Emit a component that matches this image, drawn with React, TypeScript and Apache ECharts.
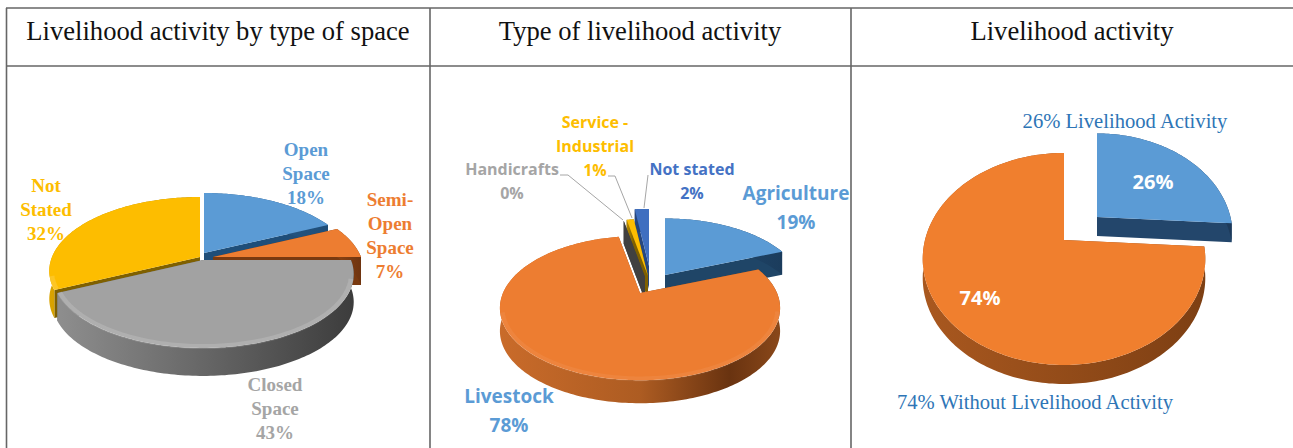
import React, { useEffect, useRef } from "react";
import * as echarts from "echarts";

const titles = ["Livelihood activity by type of space", "Type of livelihood activity", "Livelihood activity"];

const spaceNames = ["Open\nSpace", "Semi-\nOpen\nSpace", "Closed\nSpace", "Not\nStated"];
const spaceValues = [18, 7, 43, 32];

const typeNames = ["Agriculture", "Livestock", "Handicrafts", "Service -\nIndustrial", "Not stated"];
const typeValues = [19, 78, 0, 1, 2];

const activityNames = ["Livelihood Activity", "Without Livelihood Activity"];
const activityValues = [26, 74];

const BLUE = "#5B9BD5";
const ORANGE = "#ED7D31";
const GREY = "#A5A5A5";
const YELLOW = "#FDBD00";
const NAVY = "#4472C4";

type Look = { top: string; face: string; side: [number, string][] };

const pies: any[] = [
  {
    values: spaceValues, cx: 203, cy: 260, rx: 148, ry: 71.3, p: 0.189, depth: 28, bevel: 0.14,
    offsets: [[1, -7], [10, -3], [0, 0], [-3, -3]],
    scales: [1, 1, 1, 1],
    order: [0, 1, 3, 2],
    looks: [
      { top: BLUE, face: "#1F4E79", side: [[0, "#2C5F8D"], [1, "#1F4E79"]] },
      { top: ORANGE, face: "#7A3A10", side: [[0, "#8A4212"], [1, "#6E3410"]] },
      { top: "#A2A2A2", face: "#6B6B6B", side: [[0, "#8E8E8E"], [0.45, "#6A6A6A"], [1, "#3C3C3C"]] },
      { top: YELLOW, face: "#7F6000", side: [[0, "#D9A300"], [1, "#A67C00"]] },
    ] as Look[],
  },
  {
    values: typeValues, cx: 640, cy: 293, rx: 137, ry: 69, p: 0.209, depth: 23, bevel: 0.06,
    offsets: [[25, -18], [0, 0], [5, -16], [8, -17], [9, -27]],
    scales: [0.99, 1, 1, 1, 1],
    order: [4, 3, 2, 0, 1],
    looks: [
      { top: BLUE, face: "#1F4567", side: [[0, "#24507A"], [1, "#1B3C5C"]] },
      { top: ORANGE, face: "#8A4A1C", side: [[0, "#C96B2A"], [0.5, "#AD5C22"], [0.82, "#693310"], [1, "#8A481A"]] },
      { top: GREY, face: "#404040", side: [[0, "#404040"], [1, "#404040"]] },
      { top: YELLOW, face: "#7F6000", side: [[0, "#B58900"], [1, "#7F6000"]] },
      { top: "#3F6FC0", face: "#26477F", side: [[0, "#26477F"], [1, "#1D3763"]] },
    ] as Look[],
  },
  {
    values: activityValues, cx: 1064, cy: 240, rx: 139, ry: 102.6, p: 0.179, depth: 19, bevel: 0,
    offsets: [[33, -23], [0, 0]],
    scales: [0.96, 1],
    order: [0, 1],
    looks: [
      { top: BLUE, face: "#23466B", side: [[0, "#28517C"], [1, "#1D3A5A"]] },
      { top: "#F07F2E", face: "#8A4A1C", side: [[0, "#A9581F"], [1, "#7D3F13"]] },
    ] as Look[],
  },
];

const serifBold = "bold 19px 'Liberation Serif', serif";
const sansBold = (s: number) => `bold ${s}px 'Open Sans', sans-serif`;
const serif = (s: number) => `${s}px 'Liberation Serif', serif`;

const centredLabels: any[] = [
  { t: `${spaceNames[0]}\n${spaceValues[0]}%`, x: 306, y: 173, c: BLUE, f: serifBold, lh: 24 },
  { t: `${spaceNames[1]}\n${spaceValues[1]}%`, x: 390, y: 235, c: ORANGE, f: serifBold, lh: 24 },
  { t: `${spaceNames[2]}\n${spaceValues[2]}%`, x: 275, y: 408, c: GREY, f: serifBold, lh: 24 },
  { t: `${spaceNames[3]}\n${spaceValues[3]}%`, x: 46, y: 209, c: YELLOW, f: serifBold, lh: 24 },
  { t: `${typeNames[0]}\n${typeValues[0]}%`, x: 796, y: 207, c: BLUE, f: sansBold(19), lh: 29 },
  { t: `${typeNames[1]}\n${typeValues[1]}%`, x: 509, y: 410, c: BLUE, f: sansBold(19), lh: 29 },
  { t: `${typeNames[2]}\n${typeValues[2]}%`, x: 512, y: 181, c: GREY, f: sansBold(16), lh: 24 },
  { t: `${typeNames[3]}\n${typeValues[3]}%`, x: 595, y: 146, c: YELLOW, f: sansBold(16), lh: 24 },
  { t: `${typeNames[4]}\n${typeValues[4]}%`, x: 692, y: 181, c: NAVY, f: sansBold(16), lh: 24 },
  { t: `${activityValues[0]}% ${activityNames[0]}`, x: 1125, y: 121, c: "#2E75B6", f: serif(20.6), lh: 22 },
  { t: `${activityValues[1]}% ${activityNames[1]}`, x: 1035, y: 402, c: "#2E75B6", f: serif(20.6), lh: 22 },
  { t: `${activityValues[0]}%`, x: 1153, y: 181, c: "#FFFFFF", f: sansBold(20), lh: 22 },
  { t: `${activityValues[1]}%`, x: 980, y: 297, c: "#FFFFFF", f: sansBold(20), lh: 22 },
];

const leaders = [
  [[560, 175], [568, 175], [623, 220]],
  [[608, 176], [615, 176], [632, 218]],
  [[648, 175], [644, 208]],
];

const tableLines = [
  [6, 8, 1293, 8], [6, 66, 1293, 66],
  [6.5, 8, 6.5, 448], [430, 8, 430, 448], [851, 8, 851, 448],
];

function pieSeries(pie: any) {
  const total = pie.values.reduce((a: number, b: number) => a + b, 0);
  const project = (theta: number, ox: number, oy: number, drop: number, k: number) => {
    const u = Math.sin(theta);
    const v = Math.cos(theta);
    const s = k / (1 + pie.p * v);
    return [pie.cx + ox + pie.rx * u * s, pie.cy + oy - pie.ry * v * s + drop];
  };
  const renderItem = (_: any, api: any) => {
    const idx = api.value(1);
    let before = 0;
    for (let i = 0; i < idx; i++) before += pie.values[i];
    const a0 = (before / total) * Math.PI * 2;
    const a1 = ((before + api.value(0)) / total) * Math.PI * 2;
    const [ox, oy] = pie.offsets[idx];
    const k = pie.scales[idx];
    const look: Look = pie.looks[idx];
    const n = Math.max(2, Math.ceil((a1 - a0) / 0.02));
    const top: number[][] = [];
    const bottom: number[][] = [];
    const front: number[][] = [];
    const apex = [pie.cx + ox, pie.cy + oy];
    for (let j = 0; j <= n; j++) {
      const t = a0 + ((a1 - a0) * j) / n;
      const p = project(t, ox, oy, 0, k);
      top.push(p);
      bottom.push(project(t, ox, oy, pie.depth, k));
      if (Math.cos(t) < -0.25) front.push([apex[0] + (p[0] - apex[0]) * 0.985, apex[1] + (p[1] - apex[1]) * 0.985]);
    }
    const apexLow = [apex[0], apex[1] + pie.depth];
    const poly = (points: number[][], fill: any) => ({
      type: "polygon",
      shape: { points },
      style: { fill, stroke: "none" },
      silent: true,
    });
    const children: any[] = [
      poly([apex, top[0], bottom[0], apexLow], look.face),
      poly([apex, top[n], bottom[n], apexLow], look.face),
      poly([...top, ...bottom.slice().reverse()], new echarts.graphic.LinearGradient(0, 0, 1, 0,
        look.side.map(([offset, color]) => ({ offset, color })))),
    ];
    if (api.value(0) > 0) children.push(poly([apex, ...top], look.top));
    if (pie.bevel > 0 && front.length > 1) {
      children.push({
        type: "polyline", shape: { points: front }, silent: true,
        style: { fill: "none", stroke: `rgba(255,255,255,${pie.bevel})`, lineWidth: 5 },
      });
    }
    return { type: "group", children };
  };
  return {
    type: "custom",
    coordinateSystem: "none",
    silent: true,
    renderItem,
    data: pie.order.map((i: number) => [pie.values[i], i]),
  };
}

export default function App() {
  const ref = useRef<HTMLDivElement>(null);
  useEffect(() => {
    document.body.style.margin = "0";
    const chart = echarts.init(ref.current!, undefined, { renderer: "svg" });
    const titleCenters = [218, 640, 1072];
    const graphic: any[] = [
      ...tableLines.map(([x1, y1, x2, y2]) => ({
        type: "line", shape: { x1, y1, x2, y2 }, style: { stroke: "#666", lineWidth: 1.6 }, z: 1,
      })),
      ...titles.map((t, i) => ({
        type: "text", x: titleCenters[i], y: 31, z: 5,
        style: { text: t, font: serif(26.6), fill: "#111", align: "center", verticalAlign: "middle" },
      })),
      ...leaders.map((points) => ({
        type: "polyline", shape: { points }, z: 20,
        style: { fill: "none", stroke: "#A6A6A6", lineWidth: 1 },
      })),
      ...centredLabels.map((l) => ({
        type: "text", x: l.x, y: l.y, z: 30,
        style: { text: l.t, font: l.f, fill: l.c, align: "center", verticalAlign: "middle", lineHeight: l.lh },
      })),
    ];
    chart.setOption({
      animation: false,
      backgroundColor: "#fff",
      graphic,
      series: pies.map(pieSeries),
    });
    return () => chart.dispose();
  }, []);
  return <div ref={ref} style={{ width: 1293, height: 448 }} />;
}
